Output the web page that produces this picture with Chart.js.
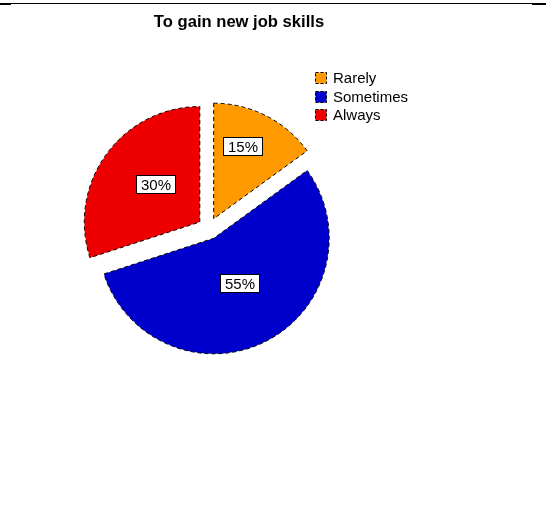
<!DOCTYPE html>
<html><head><meta charset="utf-8">
<script src="https://cdn.jsdelivr.net/npm/chart.js"></script>
<style>html,body{margin:0;padding:0;background:#fff;}#wrap{width:546px;height:507px;position:relative}</style>
</head><body><div id="wrap"><canvas id="c" width="546" height="507"></canvas></div>
<script>
const chartTitle = 'To gain new job skills';
const categories = ['Rarely', 'Sometimes', 'Always'];
const values = [15, 55, 30];
const valueLabels = ['15%', '55%', '30%'];
const colors = ['#FF9900', '#0000CC', '#EE0000'];

const FONT = "'Liberation Sans', Arial, sans-serif";

const decorPlugin = {
  id: 'decor',
  beforeDatasetsDraw(chart, args, opts) {
    const ctx = chart.ctx;
    const meta = chart.getDatasetMeta(0);
    meta.data.forEach(arc => {
      const mid = (arc.startAngle + arc.endAngle) / 2;
      ctx.save();
      ctx.translate(Math.cos(mid) * opts.explode, Math.sin(mid) * opts.explode);
      ctx.setLineDash(opts.dash);
      arc.draw(ctx);
      ctx.restore();
    });
    return false;
  },
  afterDraw(chart, args, opts) {
    const ctx = chart.ctx;
    const meta = chart.getDatasetMeta(0);
    // top rule
    ctx.save();
    ctx.fillStyle = '#000';
    ctx.fillRect(0, 3, chart.width, 1);
    ctx.fillRect(0, 3, 11, 2);
    ctx.fillRect(chart.width - 14, 3, 14, 2);
    // title
    ctx.font = 'bold 16.6px ' + FONT;
    ctx.textAlign = 'center';
    ctx.textBaseline = 'middle';
    ctx.fillText(chartTitle, opts.titleX, opts.titleY);
    // value labels
    ctx.font = '15px ' + FONT;
    meta.data.forEach((arc, i) => {
      const mid = (arc.startAngle + arc.endAngle) / 2;
      const cx = arc.x + Math.cos(mid) * opts.explode;
      const cy = arc.y + Math.sin(mid) * opts.explode;
      const ang = mid + opts.labelTurn[i] * Math.PI / 180;
      const lr = arc.outerRadius * opts.labelFrac[i];
      const x = cx + Math.cos(ang) * lr;
      const y = cy + Math.sin(ang) * lr;
      const w = Math.round(ctx.measureText(valueLabels[i]).width + 9);
      const h = 18;
      const bx = Math.round(x - w / 2) + 0.5, by = Math.round(y - h / 2) + 0.5;
      ctx.fillStyle = '#fff';
      ctx.fillRect(bx, by, w, h);
      ctx.strokeStyle = '#000';
      ctx.lineWidth = 1;
      ctx.setLineDash([]);
      ctx.strokeRect(bx, by, w, h);
      ctx.fillStyle = '#000';
      ctx.fillText(valueLabels[i], bx + w / 2, by + h / 2 + 1);
    });
    // legend
    ctx.textAlign = 'left';
    categories.forEach((c, i) => {
      const y = opts.legendY + i * opts.legendStep;
      const bx = opts.legendX + 0.5, by = Math.round(y - 6) + 0.5;
      ctx.fillStyle = colors[i];
      ctx.fillRect(bx, by, 11, 11);
      ctx.strokeStyle = '#000';
      ctx.setLineDash([3, 2]);
      ctx.strokeRect(bx, by, 11, 11);
      ctx.setLineDash([]);
      ctx.fillStyle = '#000';
      ctx.fillText(c, opts.legendX + 18, y + 1);
    });
    ctx.restore();
  }
};

new Chart(document.getElementById('c'), {
  type: 'pie',
  data: {
    labels: categories,
    datasets: [{
      data: values,
      backgroundColor: colors,
      borderColor: '#000',
      borderWidth: 1,
      borderDash: [4, 3],
      borderAlign: 'center',
      hoverOffset: 0
    }]
  },
  options: {
    responsive: false,
    animation: false,
    events: [],
    radius: 115.5,
    layout: { padding: { left: 88.7, right: 217.3, top: 108.5, bottom: 158.5 } },
    plugins: {
      legend: { display: false },
      title: { display: false },
      tooltip: { enabled: false },
      decor: {
        explode: 11,
        dash: [4, 3],
        labelFrac: [0.675, 0.445, 0.508],
        labelTurn: [-5.5, -3.3, 4.6],
        titleX: 239, titleY: 22,
        legendX: 315, legendY: 78, legendStep: 18.5
      }
    }
  },
  plugins: [decorPlugin]
});
</script>
</body></html>
